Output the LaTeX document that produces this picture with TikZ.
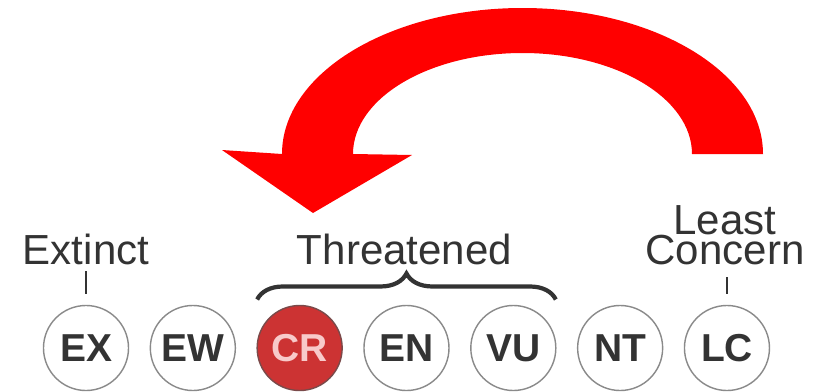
\documentclass[tikz,border=0pt]{standalone}
\usepackage{fontspec}
\setmainfont{Liberation Sans}
\usepackage{tikz}
\usetikzlibrary{positioning, decorations.pathreplacing}

\definecolor{textgray}{HTML}{333333}
\definecolor{ringgray}{HTML}{8A8A8A}
\definecolor{crred}{HTML}{CC3333}
\definecolor{crring}{HTML}{7A4A4A}
\definecolor{crtext}{HTML}{F8CACA}

\begin{document}
\begin{tikzpicture}[
    x=0.025cm, y=0.025cm,
    node distance=0.545cm,
    % Styles
    status/.style={ % Category circle
        circle,
        minimum size=2.125cm,
        inner sep=0pt,
        outer sep=0pt,
        draw=ringgray,
        line width=1pt,
        fill=white,
        text=textgray,
        font={\fontsize{27.7}{27.7}\selectfont\bfseries}
    },
    critical/.style={ % Highlighted category
        status,
        draw=crring,
        fill=crred,
        text=crtext
    },
    group/.style={ % Group labels
        inner sep=0pt,
        outer sep=0pt,
        text=textgray,
        font={\fontsize{29.9}{21.3}\selectfont\lineskiplimit=-100pt}
    },
    tick/.style={
        line width=2pt,
        draw=textgray
    },
    bracket/.style={ % Curly brace over the threatened group
        decorate,
        decoration={brace, amplitude=0.65cm},
        line width=3pt,
        draw=textgray
    }
]
    \path[use as bounding box, fill=white] (0,0) rectangle (822,391);

    % Red arrow
    \fill[red] (222,241) -- (282,237)
        arc[start angle=180, end angle=0, x radius=240.5, y radius=146]
        -- (692,237)
        arc[start angle=0, end angle=180, x radius=169.5, y radius=101]
        -- (412,236) -- (313,178) -- cycle;

    % Category circles
    \node[status] (ex) at (86,43) {EX};
    \node[status] (ew) [right=of ex] {EW};
    \node[critical] (cr) [right=of ew] {CR};
    \node[status] (en) [right=of cr] {EN};
    \node[status] (vu) [right=of en] {VU};
    \node[status] (nt) [right=of vu] {NT};
    \node[status] (lc) [right=of nt] {LC};

    % Group labels
    \node[group] (extinct) [above=1.025cm of ex] {Extinct};
    \node[group] (threatened) [above=1.025cm of en, xshift=-0.05cm] {Threatened};
    \node[group, align=center] (least) [above=1.025cm of lc, xshift=-0.05cm] {Least\\Concern};

    % Ticks and brace
    \draw[tick] ([yshift=-0.175cm]ex.north |- extinct.south) -- ([yshift=0.275cm]ex.north);
    \draw[tick] ([yshift=-0.325cm]lc.north |- least.south) -- ([yshift=0.275cm]lc.north);
    \draw[bracket] ([yshift=0.15cm]cr.west |- cr.north) -- ([yshift=0.15cm]vu.east |- vu.north);
\end{tikzpicture}
\end{document}
